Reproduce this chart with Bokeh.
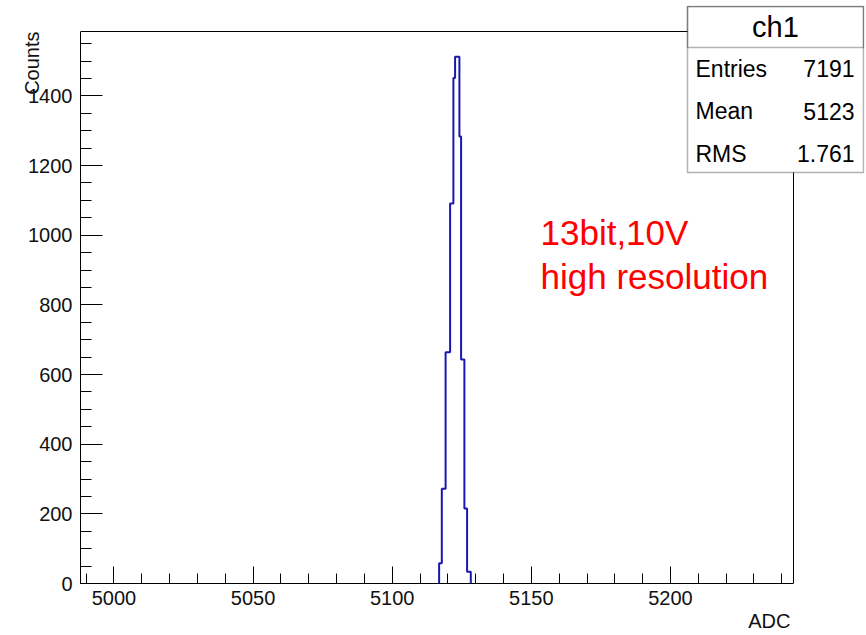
from bokeh.plotting import figure
from bokeh.models import FixedTicker, Label, BoxAnnotation, Range1d, Title
from bokeh.embed import file_html
from bokeh.resources import INLINE

# ---- data ----
bin_edges = [5116.86, 5117.83, 5119.19, 5120.81, 5121.99, 5122.60,
             5124.15, 5124.76, 5125.94, 5126.91, 5128.24]
counts = [58, 272, 664, 1091, 1451, 1512, 1283, 643, 215, 34]

x_lo, x_hi = 4988.0, 5244.2      # histogram frame (ADC)
y_lo, y_hi = 0.0, 1584.7         # histogram frame (Counts)

x_major = [5000, 5050, 5100, 5150, 5200]
x_minor = list(range(4990, 5241, 10))
y_major = [0, 200, 400, 600, 800, 1000, 1200, 1400]
y_minor = list(range(0, 1551, 50))

hist_name = "ch1"
stats_names = ["Entries", "Mean", "RMS"]
stats_values = ["7191", "5123", "1.761"]
note_lines = ["13bit,10V", "high resolution"]
x_title = "ADC"
y_title = "Counts"

FONT = "Liberation Sans"
W, H = 866, 635
BL, BT, BR, BB = 80, 5, 2, 52            # borders around the (extended) frame
HIST_W_PX, HIST_H_PX = 713, 552          # pixel size of the histogram frame

frame_w = W - BL - BR
frame_h = H - BT - BB
x_end = x_lo + (x_hi - x_lo) * frame_w / HIST_W_PX
y_end = y_lo + (y_hi - y_lo) * frame_h / HIST_H_PX

p = figure(width=W, height=H,
           x_range=Range1d(x_lo, x_end), y_range=Range1d(y_lo, y_end),
           output_backend="svg", toolbar_location=None,
           min_border_left=BL, min_border_right=BR,
           min_border_top=BT, min_border_bottom=BB)
p.background_fill_color = "white"
p.border_fill_color = "white"
p.grid.visible = False
p.outline_line_color = None

# ROOT frame: top and right edges
p.line([x_lo, x_hi, x_hi], [y_hi, y_hi, y_lo], line_color="black", line_width=1)

# histogram outline
xs = [bin_edges[0]]
ys = [0]
for i, c in enumerate(counts):
    xs += [bin_edges[i], bin_edges[i + 1]]
    ys += [c, c]
xs.append(bin_edges[-1])
ys.append(0)
p.line(xs, ys, line_color="#1818b0", line_width=2)

# axes
for ax in (p.xaxis[0], p.yaxis[0]):
    ax.axis_line_color = "black"
    ax.axis_line_width = 1
    ax.major_tick_line_color = "black"
    ax.minor_tick_line_color = "black"
    ax.major_tick_out = 0
    ax.minor_tick_out = 0
    ax.major_label_text_font = FONT
    ax.major_label_text_font_size = "20px"
    ax.major_label_text_color = "#111111"

p.xaxis[0].ticker = FixedTicker(ticks=x_major, minor_ticks=x_minor)
p.xaxis[0].bounds = (x_lo, x_hi)
p.xaxis[0].major_tick_in = 17
p.xaxis[0].minor_tick_in = 10
p.xaxis[0].major_label_standoff = 7

p.yaxis[0].ticker = FixedTicker(ticks=y_major, minor_ticks=y_minor)
p.yaxis[0].bounds = (y_lo, y_hi)
p.yaxis[0].major_tick_in = 22
p.yaxis[0].minor_tick_in = 11
p.yaxis[0].major_label_standoff = 8

# axis titles (ROOT style: aligned to the axis ends)
p.add_layout(Title(text=x_title, align="right", offset=frame_w - HIST_W_PX + 3,
                   text_font=FONT, text_font_size="20px",
                   text_font_style="normal", text_color="#111111",
                   standoff=0), "below")
y_title_model = Title(text=y_title, align="right", offset=frame_h - HIST_H_PX,
                      text_font=FONT, text_font_size="20px",
                      text_font_style="normal", text_color="#111111",
                      standoff=0)
try:
    y_title_model.standoff = -34   # ROOT lets the title overlap the tick labels
except Exception:
    y_title_model.standoff = 0
p.add_layout(y_title_model, "left")

# red note
for i, t in enumerate(note_lines):
    p.add_layout(Label(x=460, y=351 - 44 * i, x_units="screen", y_units="screen",
                       text=t, text_align="left", text_baseline="alphabetic",
                       text_font=FONT, text_font_size="35px", text_color="#ff0000"))

# stats box
p.add_layout(BoxAnnotation(left=607, right=783, bottom=411, top=577,
                           left_units="screen", right_units="screen",
                           bottom_units="screen", top_units="screen",
                           fill_color="white", fill_alpha=1,
                           line_color="black", line_width=1.5, level="overlay"))
p.add_layout(BoxAnnotation(left=607, right=783, bottom=536, top=577,
                           left_units="screen", right_units="screen",
                           bottom_units="screen", top_units="screen",
                           fill_alpha=0, line_color="black", line_width=1.5,
                           level="overlay"))
p.add_layout(Label(x=695, y=557, x_units="screen", y_units="screen",
                   text=hist_name, text_align="center", text_baseline="middle",
                   text_font=FONT, text_font_size="29px", text_color="black",
                   level="overlay"))
for i, (n, v) in enumerate(zip(stats_names, stats_values)):
    yy = 515 - 42.5 * i
    p.add_layout(Label(x=615, y=yy, x_units="screen", y_units="screen",
                       text=n, text_align="left", text_baseline="middle",
                       text_font=FONT, text_font_size="23px", text_color="black",
                       level="overlay"))
    p.add_layout(Label(x=774, y=yy, x_units="screen", y_units="screen",
                       text=v, text_align="right", text_baseline="middle",
                       text_font=FONT, text_font_size="23px", text_color="black",
                       level="overlay"))

open("out.html", "w").write(file_html(p, INLINE))
